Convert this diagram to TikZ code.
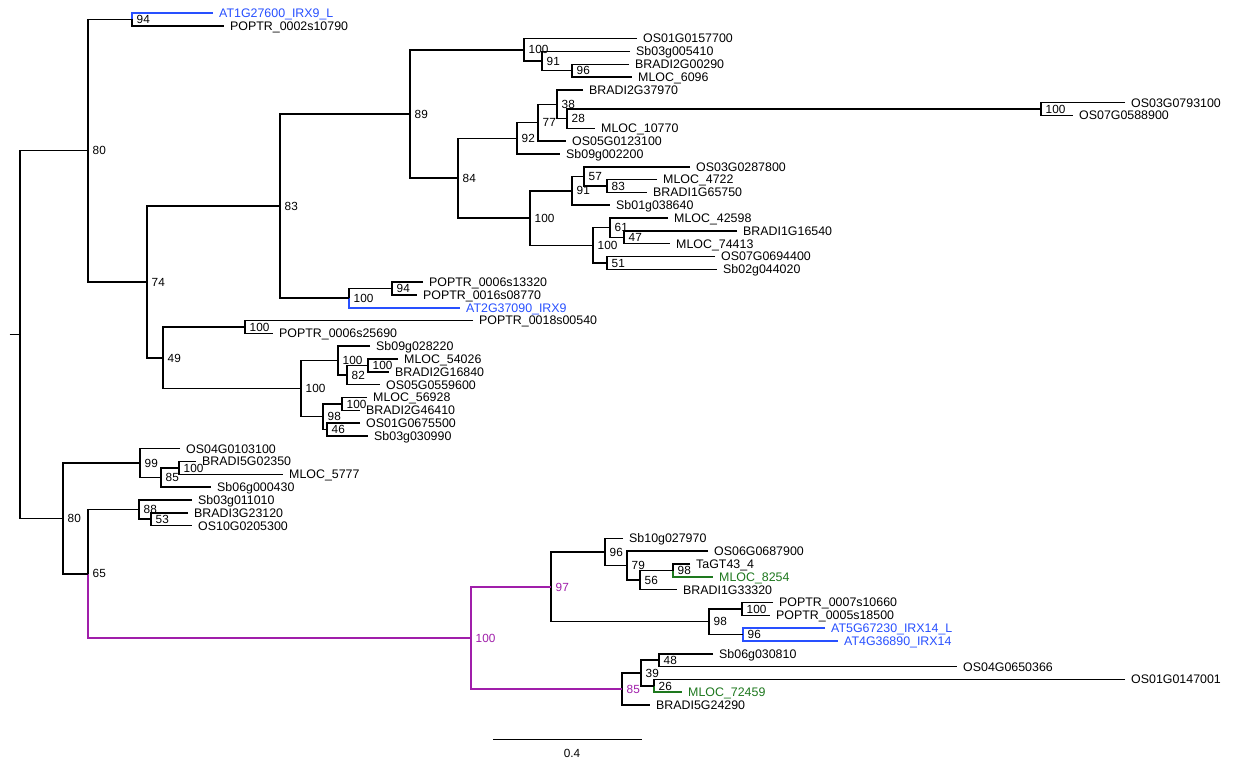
\documentclass[tikz,border=0pt]{standalone}
\usepackage{fontspec}
\setmainfont{Liberation Sans}
\definecolor{irxblue}{RGB}{40,80,255}
\definecolor{clpurple}{RGB}{160,30,170}
\definecolor{mgreen}{RGB}{30,120,30}
\begin{document}
\begin{tikzpicture}[x=1pt,y=-1pt,
 br/.style={line width=1.5pt},
 tip/.style={anchor=west, inner sep=0pt, xshift=6pt, font=\fontsize{12.4}{14}\selectfont, text height=8.8pt, text depth=0pt},
 sup/.style={anchor=west, inner sep=0pt, xshift=4.5pt, font=\fontsize{11.8}{13}\selectfont, text height=8.4pt, text depth=0pt}]
\fill[white] (0,0) rectangle (1237,759);
\useasboundingbox (0,0) rectangle (1237,759);
% tips
\coordinate (t1) at (213,13.0);
\coordinate (t2) at (224,25.8);
\coordinate (t3) at (637,38.6);
\coordinate (t4) at (630,51.4);
\coordinate (t5) at (629,64.3);
\coordinate (t6) at (632,77.1);
\coordinate (t7) at (583,89.9);
\coordinate (t8) at (1125,102.7);
\coordinate (t9) at (1073,115.5);
\coordinate (t10) at (595,128.3);
\coordinate (t11) at (566,141.2);
\coordinate (t12) at (560,154.0);
\coordinate (t13) at (690,166.8);
\coordinate (t14) at (657,179.6);
\coordinate (t15) at (647,192.4);
\coordinate (t16) at (610,205.2);
\coordinate (t17) at (668,218.0);
\coordinate (t18) at (737,230.9);
\coordinate (t19) at (670,243.7);
\coordinate (t20) at (715,256.5);
\coordinate (t21) at (717,269.3);
\coordinate (t22) at (423,282.1);
\coordinate (t23) at (417,294.9);
\coordinate (t24) at (460,307.8);
\coordinate (t25) at (473,320.6);
\coordinate (t26) at (273,333.4);
\coordinate (t27) at (370,346.2);
\coordinate (t28) at (398,359.0);
\coordinate (t29) at (389,371.8);
\coordinate (t30) at (380,384.6);
\coordinate (t31) at (367,397.5);
\coordinate (t32) at (360,410.3);
\coordinate (t33) at (360,423.1);
\coordinate (t34) at (368,435.9);
\coordinate (t35) at (180,448.7);
\coordinate (t36) at (196,461.5);
\coordinate (t37) at (283,474.4);
\coordinate (t38) at (211,487.2);
\coordinate (t39) at (192,500.0);
\coordinate (t40) at (188,512.8);
\coordinate (t41) at (192,525.6);
\coordinate (t42) at (623,538.4);
\coordinate (t43) at (708,551.2);
\coordinate (t44) at (690,564.1);
\coordinate (t45) at (713,576.9);
\coordinate (t46) at (677,589.7);
\coordinate (t47) at (773,602.5);
\coordinate (t48) at (770,615.3);
\coordinate (t49) at (825,628.1);
\coordinate (t50) at (838,641.0);
\coordinate (t51) at (713,653.8);
\coordinate (t52) at (957,666.6);
\coordinate (t53) at (1125,679.4);
\coordinate (t54) at (682,692.2);
\coordinate (t55) at (650,705.0);
% internal nodes
\coordinate (n94a) at (132,19.4);
\coordinate (n96a) at (572,70.7);
\coordinate (n91a) at (542,61.05);
\coordinate (n100a) at (524,49.8);
\coordinate (n100b) at (1041,109.1);
\coordinate (n28) at (567,118.7);
\coordinate (n38) at (557,104.3);
\coordinate (n77) at (538,122.75);
\coordinate (n92) at (517,138.4);
\coordinate (n83b) at (607,186.0);
\coordinate (n57) at (584,176.4);
\coordinate (n91b) at (572,190.8);
\coordinate (n47) at (624,237.3);
\coordinate (n61) at (610,227.65);
\coordinate (n51) at (607,262.9);
\coordinate (n100d) at (593,245.3);
\coordinate (n100c) at (530,218.05);
\coordinate (n84) at (458,178.2);
\coordinate (n89) at (410,114.0);
\coordinate (n94b) at (392,288.5);
\coordinate (n100e) at (349,298.15);
\coordinate (n83a) at (280,206.1);
\coordinate (n100f) at (245,327.0);
\coordinate (n100h) at (368,365.4);
\coordinate (n82) at (347,375.0);
\coordinate (n100g) at (338,360.6);
\coordinate (n100i) at (342,403.9);
\coordinate (n46) at (327,429.5);
\coordinate (n98a) at (323,416.7);
\coordinate (n100j) at (301,388.65);
\coordinate (n49) at (163,357.8);
\coordinate (n74) at (147,281.95);
\coordinate (n80a) at (88,150.7);
\coordinate (n100k) at (179,467.95);
\coordinate (n85a) at (161,477.6);
\coordinate (n99) at (140,463.15);
\coordinate (n53) at (151,519.2);
\coordinate (n88) at (139,509.6);
\coordinate (n98b) at (673,570.5);
\coordinate (n56) at (640,580.1);
\coordinate (n79) at (627,565.65);
\coordinate (n96b) at (605,552.0);
\coordinate (n100l) at (742,608.9);
\coordinate (n96c) at (743,634.55);
\coordinate (n98c) at (709,621.7);
\coordinate (n97) at (551,586.85);
\coordinate (n48) at (659,660.2);
\coordinate (n26) at (654,685.8);
\coordinate (n39) at (641,673.0);
\coordinate (n85b) at (622,689.0);
\coordinate (n100m) at (471,637.9);
\coordinate (n65) at (88,573.75);
\coordinate (n80b) at (63,518.45);
\coordinate (root) at (20,334.6);
\coordinate (stub) at (9.5,334.6);
% connectors
\draw[br,irxblue] (t1) -| (n94a); \draw[br] (n94a) |- (t2);
\draw[br] (t3) -| (n100a) |- (n91a);
\draw[br] (t4) -| (n91a) |- (n96a);
\draw[br] (t5) -| (n96a) |- (t6);
\draw[br] (t8) -| (n100b) |- (t9);
\draw[br] (n100b) -| (n28) |- (t10);
\draw[br] (t7) -| (n38) |- (n28);
\draw[br] (n38) -| (n77) |- (t11);
\draw[br] (n77) -| (n92) |- (t12);
\draw[br] (t14) -| (n83b) |- (t15);
\draw[br] (t13) -| (n57) |- (n83b);
\draw[br] (n57) -| (n91b) |- (t16);
\draw[br] (t18) -| (n47) |- (t19);
\draw[br] (t17) -| (n61) |- (n47);
\draw[br] (t20) -| (n51) |- (t21);
\draw[br] (n61) -| (n100d) |- (n51);
\draw[br] (n91b) -| (n100c) |- (n100d);
\draw[br] (n92) -| (n84) |- (n100c);
\draw[br] (n100a) -| (n89) |- (n84);
\draw[br] (t22) -| (n94b) |- (t23);
\draw[br] (n94b) -| (n100e); \draw[br,irxblue] (n100e) |- (t24);
\draw[br] (n89) -| (n83a) |- (n100e);
\draw[br] (t25) -| (n100f) |- (t26);
\draw[br] (t28) -| (n100h) |- (t29);
\draw[br] (n100h) -| (n82) |- (t30);
\draw[br] (t27) -| (n100g) |- (n82);
\draw[br] (t31) -| (n100i) |- (t32);
\draw[br] (t33) -| (n46) |- (t34);
\draw[br] (n100i) -| (n98a) |- (n46);
\draw[br] (n100g) -| (n100j) |- (n98a);
\draw[br] (n100f) -| (n49) |- (n100j);
\draw[br] (n83a) -| (n74) |- (n49);
\draw[br] (n94a) -| (n80a) |- (n74);
\draw[br] (t36) -| (n100k) |- (t37);
\draw[br] (n100k) -| (n85a) |- (t38);
\draw[br] (t35) -| (n99) |- (n85a);
\draw[br] (t40) -| (n53) |- (t41);
\draw[br] (t39) -| (n88) |- (n53);
\draw[br] (t44) -| (n98b); \draw[br,mgreen] (n98b) |- (t45);
\draw[br] (n98b) -| (n56) |- (t46);
\draw[br] (t43) -| (n79) |- (n56);
\draw[br] (t42) -| (n96b) |- (n79);
\draw[br] (t47) -| (n100l) |- (t48);
\draw[br,irxblue] (t49) -| (n96c) |- (t50);
\draw[br] (n100l) -| (n98c) |- (n96c);
\draw[br] (n96b) -| (n97) |- (n98c);
\draw[br] (t51) -| (n48) |- (t52);
\draw[br] (t53) -| (n26); \draw[br,mgreen] (n26) |- (t54);
\draw[br] (n48) -| (n39) |- (n26);
\draw[br] (n39) -| (n85b) |- (t55);
\draw[br,clpurple] (n97) -| (n100m) |- (n85b);
\draw[br] (n88) -| (n65); \draw[br,clpurple] (n65) |- (n100m);
\draw[br] (n99) -| (n80b) |- (n65);
\draw[br] (n80a) -| (root) |- (n80b);
\draw[br] (stub) -- (root);
% tip labels
\node[tip,text=irxblue] (L1) at (t1) {AT1G27600\_IRX9\_L};
\node[tip] (L2) at (t2) {POPTR\_0002s10790};
\node[tip] (L3) at (t3) {OS01G0157700};
\node[tip] (L4) at (t4) {Sb03g005410};
\node[tip] (L5) at (t5) {BRADI2G00290};
\node[tip] (L6) at (t6) {MLOC\_6096};
\node[tip] (L7) at (t7) {BRADI2G37970};
\node[tip] (L8) at (t8) {OS03G0793100};
\node[tip] (L9) at (t9) {OS07G0588900};
\node[tip] (L10) at (t10) {MLOC\_10770};
\node[tip] (L11) at (t11) {OS05G0123100};
\node[tip] (L12) at (t12) {Sb09g002200};
\node[tip] (L13) at (t13) {OS03G0287800};
\node[tip] (L14) at (t14) {MLOC\_4722};
\node[tip] (L15) at (t15) {BRADI1G65750};
\node[tip] (L16) at (t16) {Sb01g038640};
\node[tip] (L17) at (t17) {MLOC\_42598};
\node[tip] (L18) at (t18) {BRADI1G16540};
\node[tip] (L19) at (t19) {MLOC\_74413};
\node[tip] (L20) at (t20) {OS07G0694400};
\node[tip] (L21) at (t21) {Sb02g044020};
\node[tip] (L22) at (t22) {POPTR\_0006s13320};
\node[tip] (L23) at (t23) {POPTR\_0016s08770};
\node[tip,text=irxblue] (L24) at (t24) {AT2G37090\_IRX9};
\node[tip] (L25) at (t25) {POPTR\_0018s00540};
\node[tip] (L26) at (t26) {POPTR\_0006s25690};
\node[tip] (L27) at (t27) {Sb09g028220};
\node[tip] (L28) at (t28) {MLOC\_54026};
\node[tip] (L29) at (t29) {BRADI2G16840};
\node[tip] (L30) at (t30) {OS05G0559600};
\node[tip] (L31) at (t31) {MLOC\_56928};
\node[tip] (L32) at (t32) {BRADI2G46410};
\node[tip] (L33) at (t33) {OS01G0675500};
\node[tip] (L34) at (t34) {Sb03g030990};
\node[tip] (L35) at (t35) {OS04G0103100};
\node[tip] (L36) at (t36) {BRADI5G02350};
\node[tip] (L37) at (t37) {MLOC\_5777};
\node[tip] (L38) at (t38) {Sb06g000430};
\node[tip] (L39) at (t39) {Sb03g011010};
\node[tip] (L40) at (t40) {BRADI3G23120};
\node[tip] (L41) at (t41) {OS10G0205300};
\node[tip] (L42) at (t42) {Sb10g027970};
\node[tip] (L43) at (t43) {OS06G0687900};
\node[tip] (L44) at (t44) {TaGT43\_4};
\node[tip,text=mgreen] (L45) at (t45) {MLOC\_8254};
\node[tip] (L46) at (t46) {BRADI1G33320};
\node[tip] (L47) at (t47) {POPTR\_0007s10660};
\node[tip] (L48) at (t48) {POPTR\_0005s18500};
\node[tip,text=irxblue] (L49) at (t49) {AT5G67230\_IRX14\_L};
\node[tip,text=irxblue] (L50) at (t50) {AT4G36890\_IRX14};
\node[tip] (L51) at (t51) {Sb06g030810};
\node[tip] (L52) at (t52) {OS04G0650366};
\node[tip] (L53) at (t53) {OS01G0147001};
\node[tip,text=mgreen] (L54) at (t54) {MLOC\_72459};
\node[tip] (L55) at (t55) {BRADI5G24290};
% support labels
\node[sup] (s94a) at (n94a) {94};
\node[sup] (s96a) at (n96a) {96};
\node[sup] (s91a) at (n91a) {91};
\node[sup] (s100a) at (n100a) {100};
\node[sup] (s100b) at (n100b) {100};
\node[sup] (s28) at (n28) {28};
\node[sup] (s38) at (n38) {38};
\node[sup] (s77) at (n77) {77};
\node[sup] (s92) at (n92) {92};
\node[sup] (s83b) at (n83b) {83};
\node[sup] (s57) at (n57) {57};
\node[sup] (s91b) at (n91b) {91};
\node[sup] (s47) at (n47) {47};
\node[sup] (s61) at (n61) {61};
\node[sup] (s51) at (n51) {51};
\node[sup] (s100d) at (n100d) {100};
\node[sup] (s100c) at (n100c) {100};
\node[sup] (s84) at (n84) {84};
\node[sup] (s89) at (n89) {89};
\node[sup] (s94b) at (n94b) {94};
\node[sup] (s100e) at (n100e) {100};
\node[sup] (s83a) at (n83a) {83};
\node[sup] (s100f) at (n100f) {100};
\node[sup] (s100h) at (n100h) {100};
\node[sup] (s82) at (n82) {82};
\node[sup] (s100g) at (n100g) {100};
\node[sup] (s100i) at (n100i) {100};
\node[sup] (s46) at (n46) {46};
\node[sup] (s98a) at (n98a) {98};
\node[sup] (s100j) at (n100j) {100};
\node[sup] (s49) at (n49) {49};
\node[sup] (s74) at (n74) {74};
\node[sup] (s80a) at (n80a) {80};
\node[sup] (s100k) at (n100k) {100};
\node[sup] (s85a) at (n85a) {85};
\node[sup] (s99) at (n99) {99};
\node[sup] (s53) at (n53) {53};
\node[sup] (s88) at (n88) {88};
\node[sup] (s98b) at (n98b) {98};
\node[sup] (s56) at (n56) {56};
\node[sup] (s79) at (n79) {79};
\node[sup] (s96b) at (n96b) {96};
\node[sup] (s100l) at (n100l) {100};
\node[sup] (s96c) at (n96c) {96};
\node[sup] (s98c) at (n98c) {98};
\node[sup,text=clpurple] (s97) at (n97) {97};
\node[sup] (s48) at (n48) {48};
\node[sup] (s26) at (n26) {26};
\node[sup] (s39) at (n39) {39};
\node[sup,text=clpurple] (s85b) at (n85b) {85};
\node[sup,text=clpurple] (s100m) at (n100m) {100};
\node[sup] (s65) at (n65) {65};
\node[sup] (s80b) at (n80b) {80};
% scale bar
\coordinate (sbL) at (493,739);
\coordinate (sbR) at (642,739);
\draw[line width=1pt] (sbL) -- (sbR);
\node[sup,anchor=center,xshift=0pt] (sbT) at (567.5,753) {0.4};
\end{tikzpicture}
\end{document}
